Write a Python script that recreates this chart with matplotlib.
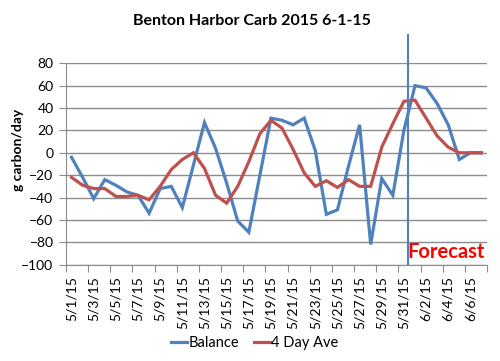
import pandas as pd
import matplotlib
matplotlib.use("Agg")
import matplotlib.pyplot as plt

# daily dates 5/1/15 .. 6/7/15
fechas = pd.date_range("2015-05-01", "2015-06-07", freq="D")
etiquetas = [f"{d.month}/{d.day}/{d.year % 100}" for d in fechas]

balance = [-4, -22, -41, -24, -29, -35, -38, -54, -32, -30, -49, -11, 27, 4,
           -27, -61, -71, -20, 31, 29, 25, 31, 2, -55, -51, -12, 25, -82,
           -23, -38, 20, 60, 58, 44, 25, -6, 0, 0]
promedio_4d = [-22, -29, -32, -32, -39, -39, -38, -42, -30, -15, -6, 0, -14, -38,
               -45, -30, -8, 17, 29, 22, 3, -18, -30, -25, -31, -24, -30, -30,
               5, 26, 46, 47, 31, 15, 5, 0, 0, 0]

azul = "#4F81BD"
rojo = "#C0504D"
gris = "#8C8C8C"

plt.rcParams["font.family"] = ["Lato", "DejaVu Sans"]

fig = plt.figure(figsize=(5, 3.61), dpi=100)
ax = fig.add_axes([0.132, 0.2668, 0.842, 0.558])

x = list(range(len(etiquetas)))
ax.plot(x, balance, color=azul, lw=2.3, label="Balance", solid_joinstyle="miter")
ax.plot(x, promedio_4d, color=rojo, lw=2.3, label="4 Day Ave", solid_joinstyle="miter")

ax.set_xlim(-0.5, len(etiquetas) - 0.5)
ax.set_ylim(-100, 80)
ax.set_yticks(range(-100, 81, 20))
ax.yaxis.grid(True, color=gris, lw=1)
ax.set_axisbelow(True)

# ticks on category boundaries, labels on every other category
ax.set_xticks([i - 0.5 for i in range(0, len(etiquetas) + 1, 2)])
ax.set_xticklabels([])
ax.set_xticks(x[::2], labels=etiquetas[::2], minor=True)
ax.tick_params(axis="x", which="major", length=5, color=gris, direction="out")
ax.tick_params(axis="x", which="minor", length=0, rotation=90, labelsize=10, pad=8)
ax.tick_params(axis="y", length=5, color=gris, labelsize=10, pad=4)

for lado in ["top", "right"]:
    ax.spines[lado].set_visible(False)
for lado in ["left", "bottom"]:
    ax.spines[lado].set_color(gris)

# forecast marker
ax.axvline(30.4, ymin=0, ymax=1.14, color=azul, lw=1.5, clip_on=False)
ax.text(37.3, -98, "Forecast", color="#FF0000", fontsize=14.5, fontweight="bold",
        ha="right", va="bottom")

fig.text(0.504, 0.942, "Benton Harbor Carb 2015 6-1-15", ha="center", va="center",
         fontsize=11.5, fontweight="bold")
fig.text(0.036, 0.585, "g carbon/day", rotation=90, ha="center", va="center",
         fontsize=10, fontweight="bold")

fig.legend(loc="center", bbox_to_anchor=(0.51, 0.05), ncol=2, frameon=False,
           fontsize=10.5, handlelength=1.1, handletextpad=0.1, columnspacing=1.0)

fig.savefig("out.png", dpi=100)
